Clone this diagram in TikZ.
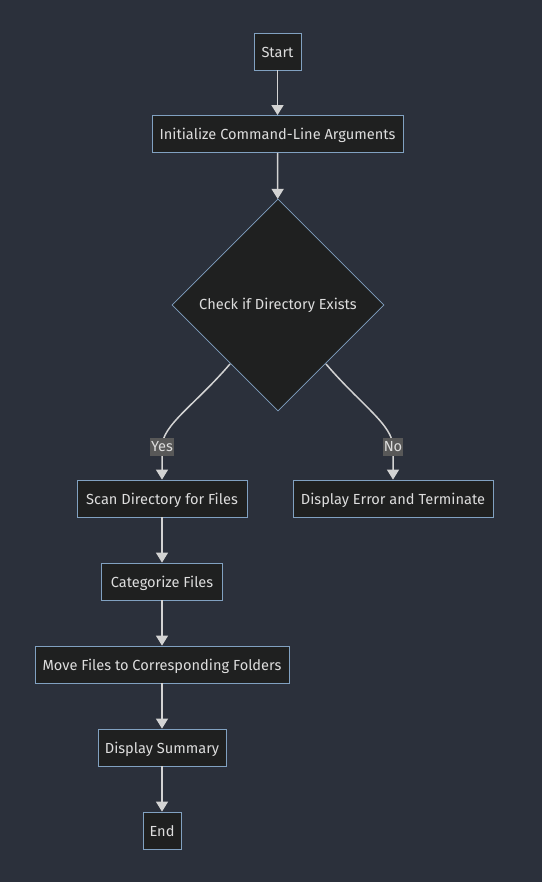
\documentclass[tikz,border=0pt]{standalone}
\usepackage{fontspec}
\setmainfont{Fira Sans}
\usetikzlibrary{shapes.geometric,arrows.meta}
\definecolor{bgc}{HTML}{2B303B}
\definecolor{nodefill}{HTML}{1F2020}
\definecolor{nodeborder}{HTML}{81A1C1}
\definecolor{linec}{HTML}{D3D3D3}
\definecolor{txt}{HTML}{DDDDDD}
\definecolor{lblbg}{HTML}{585858}
\tikzset{
  box/.style={draw=nodeborder, fill=nodefill, text=txt, line width=0.8pt, minimum height=37pt, inner xsep=2pt, text height=13.5pt, text depth=1.5pt, font=\fontsize{14.6}{17}\selectfont},
  dia/.style={diamond, draw=nodeborder, fill=nodefill, text=txt, line width=0.8pt, minimum width=212pt, minimum height=212pt, inner sep=0pt, font=\fontsize{14.6}{17}\selectfont},
  conn/.style={draw=linec, line width=1.5pt, -{Triangle[length=10pt,width=12pt]}},
  lbl/.style={fill=lblbg, text=txt, inner xsep=1pt, inner ysep=2.5pt, text height=10.5pt, text depth=2.5pt, font=\fontsize{14.6}{17}\selectfont},
}
\begin{document}
\begin{tikzpicture}[x=1pt,y=-1pt]
\useasboundingbox[fill=bgc] (0,0) rectangle (542,882);
\node[box, minimum width=47pt] (start) at (277.5,51.5) {Start};
\node[box, minimum width=251pt] (init) at (277.5,134) {Initialize Command-Line Arguments};
\node[dia] (check) at (278,305) {Check if Directory Exists};
\node[box, minimum width=170pt] (scan) at (162,498.5) {Scan Directory for Files};
\node[box, minimum width=200pt] (err) at (393,498.5) {Display Error and Terminate};
\node[box, minimum width=121pt] (cat) at (162,581.5) {Categorize Files};
\node[box, minimum width=254pt] (move) at (162,664.5) {Move Files to Corresponding Folders};
\node[box, minimum width=128pt] (summ) at (162,747.5) {Display Summary};
\node[box, minimum width=38pt] (end) at (162,830.5) {End};
\coordinate (yl) at (230,364);
\coordinate (nl) at (326,364);
\draw[conn] (start) -- (init);
\draw[conn] (init) -- (check);
\draw[conn] (yl) .. controls (195,405) and (162,425) .. (162,447) -- (scan);
\draw[conn] (nl) .. controls (361,405) and (393,425) .. (393,447) -- (err);
\node[lbl] (yes) at (162,447) {Yes};
\node[lbl] (no) at (393,447) {No};
\draw[conn] (scan) -- (cat);
\draw[conn] (cat) -- (move);
\draw[conn] (move) -- (summ);
\draw[conn] (summ) -- (end);
\end{tikzpicture}
\end{document}
